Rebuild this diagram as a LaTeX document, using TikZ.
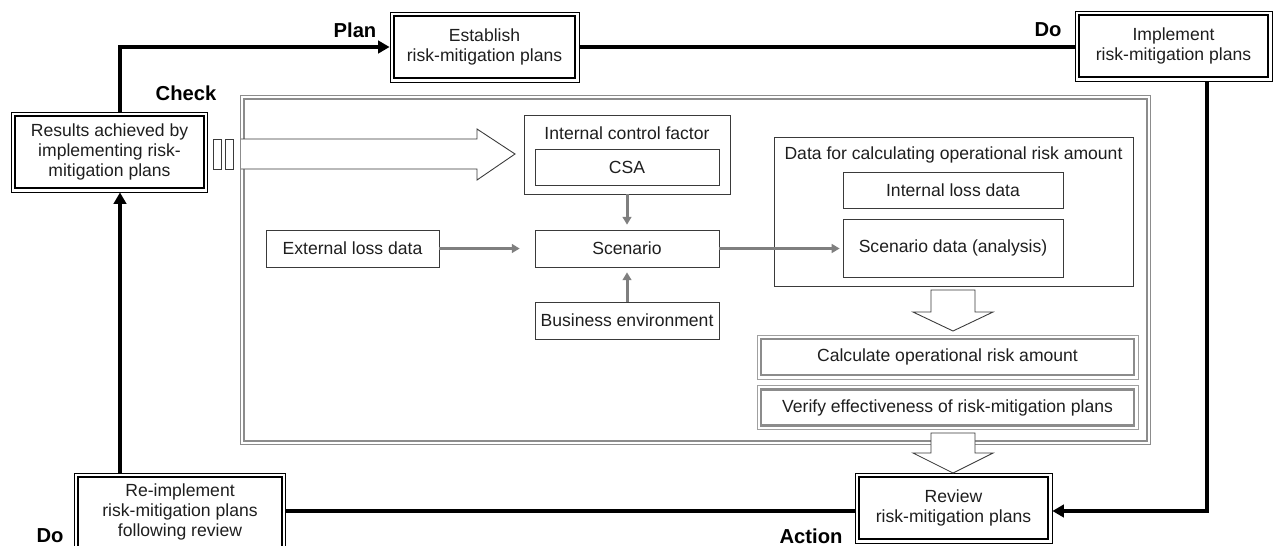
\documentclass[tikz,border=0pt]{standalone}
\usepackage{fontspec}
\setmainfont{Liberation Sans}
\usetikzlibrary{arrows.meta, positioning, calc, fit}
\definecolor{framegray}{HTML}{8C8C8C}
\definecolor{lightrim}{HTML}{A0A0A0}
\definecolor{feedgray}{HTML}{7F7F7F}
\definecolor{boxline}{HTML}{3A3A3A}
\definecolor{inktext}{HTML}{1E1E1E}

\begin{document}
\begin{tikzpicture}[
    x=0.02cm, y=-0.02cm,
    font=\fontsize{10}{11.6}\selectfont, text=inktext,
    cyclebox/.style={draw, line width=1.3pt, minimum width=3.78cm,
      minimum height=1.24cm, align=center, inner sep=1pt},
    rim/.style={draw, line width=0.5pt, inner sep=1.6pt},
    plainbox/.style={draw=boxline, line width=0.45pt, minimum width=3.68cm,
      minimum height=0.74cm, align=center, inner sep=1pt},
    graybox/.style={draw=framegray, line width=1.2pt, minimum width=7.46cm,
      minimum height=0.72cm, align=center, inner sep=1pt},
    grayrim/.style={draw=lightrim, line width=0.5pt, inner sep=1.7pt},
    phase/.style={font=\fontsize{11.5}{13}\selectfont\bfseries, text=black},
    loop/.style={line width=2.4pt},
    feed/.style={draw=feedgray, line width=1.7pt, shorten >=2.8pt,
      -{Triangle[length=4.5pt, width=5pt]}},
    hollow/.style={draw=boxline, line width=0.5pt, fill=white},
    >={Triangle[length=6.5pt, width=7pt]}
  ]
  \useasboundingbox (0,0) rectangle (1274,545);

  % PDCA cycle
  \node[cyclebox, minimum width=3.62cm] (establish) at (484.5,47)
    {Establish\\risk-mitigation plans};
  \node[rim, fit=(establish)] (establish-f) {};
  \node[cyclebox] (implement) at (1173.5,46) {Implement\\risk-mitigation plans};
  \node[rim, fit=(implement)] (implement-f) {};
  \node[cyclebox, minimum height=1.44cm] (results) at (109.5,152)
    {Results achieved by\\implementing risk-\\mitigation plans};
  \node[rim, fit=(results)] (results-f) {};
  \node[cyclebox] (review) at (953.5,508) {Review\\risk-mitigation plans};
  \node[rim, fit=(review)] (review-f) {};
  \node[cyclebox, minimum width=4.08cm, minimum height=1.4cm] (reimpl) at (180,512)
    {Re-implement\\risk-mitigation plans\\following review};
  \node[rim, fit=(reimpl)] (reimpl-f) {};

  \node[phase] (plan) at (355,30) {Plan};
  \node[phase] (check) at (186,93) {Check};
  \node[phase] (do) at (1048,30) {Do};
  \node[phase] (redo) at (50,536) {Do};
  \node[phase] (action) at (811,536) {Action};

  \coordinate (leftrail) at (120,0);
  \coordinate (rightrail) at (1207,0);
  \draw[loop, ->] (leftrail |- results-f.north) |- (establish-f.west);
  \draw[loop] (establish-f.east) -- (establish-f.east -| implement-f.west);
  \draw[loop, ->] (rightrail |- implement-f.south) |- ($(review-f.east)+(0,3)$);
  \draw[loop] ($(review-f.west)+(0,3)$) -- ($(review-f.west -| reimpl-f.east)+(0,3)$);
  \draw[loop, ->] (leftrail |- reimpl-f.north) -- (leftrail |- results-f.south);

  % Check area
  \node[draw=framegray, line width=1.1pt, minimum width=18.06cm,
    minimum height=6.84cm] (checkarea) at (695.5,270) {};
  \node[grayrim, draw=framegray, fit=(checkarea)] (checkarea-f) {};

  \node[plainbox, minimum width=4.12cm, minimum height=1.58cm] (icf) at (627,154.5) {};
  \node (icftitle) at (627,133) {Internal control factor};
  \node[plainbox, minimum height=0.72cm] (csa) at (627,167) {CSA};
  \node[plainbox, minimum width=3.46cm] (ext) at (352.5,248.5) {External loss data};
  \node[plainbox] (scen) at (627,248.5) {Scenario};
  \node[plainbox] (bus) at (627,320.5) {Business environment};

  \node[plainbox, minimum width=7.18cm, minimum height=2.98cm] (data) at (953.5,211.5) {};
  \node (datatitle) at (953.5,155) {Data for calculating operational risk amount};
  \node[plainbox, minimum width=4.4cm, minimum height=0.72cm] (ild) at (953,190)
    {Internal loss data};
  \node[plainbox, minimum width=4.4cm, minimum height=1.16cm] (sdata) at (953,248)
    {Scenario data (analysis)};

  \node[graybox] (calcamount) at (947.5,357) {Calculate operational risk amount};
  \node[grayrim, fit=(calcamount)] (calcamount-f) {};
  \node[graybox] (verify) at (947.5,407.5) {Verify effectiveness of risk-mitigation plans};
  \node[grayrim, fit=(verify)] (verify-f) {};

  \draw[feed] (icf) -- (scen);
  \draw[feed] (bus) -- (scen);
  \draw[feed, shorten >=8.5pt] (ext) -- (scen);
  \draw[feed, shorten >=1.7pt] (scen) -- (scen -| sdata.west);

  % hollow arrows
  \draw[hollow] (213,139) rectangle (221,169);
  \draw[hollow] (225,139) rectangle (233,169);
  \draw[hollow] (241,139) -- (477,139) -- (477,129) -- (515,154)
    -- (477,180) -- (477,169) -- (241,169);
  \draw[hollow] (931,290) -- (931,312) -- (913,312) -- (953,331)
    -- (993,312) -- (975,312) -- (975,290) -- cycle;
  \draw[hollow] (931,433) -- (931,453) -- (913,453) -- (953,473)
    -- (993,453) -- (975,453) -- (975,433) -- cycle;
\end{tikzpicture}
\end{document}
